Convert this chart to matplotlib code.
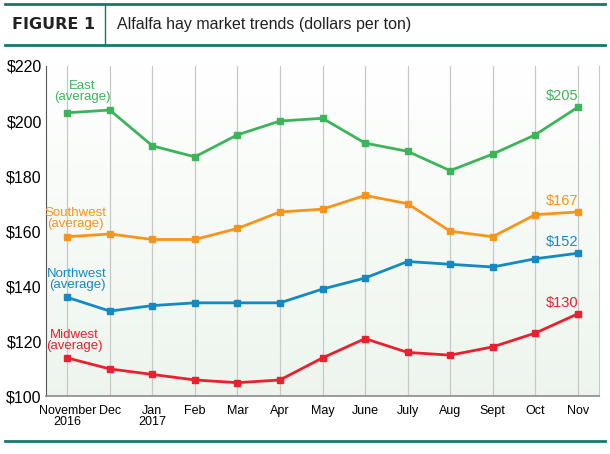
import matplotlib.pyplot as plt
import matplotlib.lines as mlines
import numpy as np

months = ['November\n2016', 'Dec', 'Jan\n2017', 'Feb', 'Mar', 'Apr', 'May',
          'June', 'July', 'Aug', 'Sept', 'Oct', 'Nov']
east = [203, 204, 191, 187, 195, 200, 201, 192, 189, 182, 188, 195, 205]
southwest = [158, 159, 157, 157, 161, 167, 168, 173, 170, 160, 158, 166, 167]
northwest = [136, 131, 133, 134, 134, 134, 139, 143, 149, 148, 147, 150, 152]
midwest = [114, 110, 108, 106, 105, 106, 114, 121, 116, 115, 118, 123, 130]
yticks = [100, 120, 140, 160, 180, 200, 220]

names = ['East', 'Southwest', 'Northwest', 'Midwest']
series = [east, southwest, northwest, midwest]
colors = ['#3db45a', '#f7941d', '#1489c3', '#e8202f']
label_pos = [(0.35, 210.7), (0.19, 164.7), (0.23, 142.5), (0.16, 120.2)]

font = 'Liberation Sans'
teal = '#17786a'

fig = plt.figure(figsize=(6.1, 4.54), dpi=100)
ax = fig.add_axes([0.0754, 0.1267, 0.9066, 0.728])

x = np.arange(len(months))
ax.set_xlim(-0.5, 12.5)
ax.set_ylim(100, 220)

# soft green gradient behind the plot
grad = np.linspace(0, 1, 256).reshape(-1, 1)
top = np.array([1.0, 1.0, 1.0])
bot = np.array([0.93, 0.96, 0.93])
img = top + (bot - top) * grad[:, :, None]
ax.imshow(img, extent=[-0.5, 12.5, 100, 220], aspect='auto', zorder=0)

for xi in x:
    ax.axvline(xi, color='#c8c8c8', lw=0.9, zorder=1)

for name, vals, c, (lx, ly) in zip(names, series, colors, label_pos):
    ax.plot(x, vals, color=c, lw=2.0, marker='s', markersize=4.5, zorder=3)
    ax.text(lx, ly, name + '\n(average)', color=c, ha='center', va='center',
            fontsize=9.5, family=font, linespacing=0.9)
    ax.text(11.64, vals[-1] + 4, '$' + str(vals[-1]), color=c, ha='center',
            va='center', fontsize=10.5, family=font)

ax.set_xticks(x)
ax.set_xticklabels(months, family=font, fontsize=9, linespacing=0.95)
ax.set_yticks(yticks)
ax.set_yticklabels(['$' + str(v) for v in yticks], family=font, fontsize=11.5)
ax.tick_params(axis='both', length=0, pad=3)
ax.tick_params(axis='x', pad=6)

ax.spines['top'].set_visible(False)
ax.spines['right'].set_color('#c8c8c8')
ax.spines['left'].set_color('#555555')
ax.spines['bottom'].set_color('#8a8a8a')
ax.spines['bottom'].set_linewidth(1.2)

# header
fig.add_artist(mlines.Line2D([0.008, 0.992], [0.991, 0.991], color=teal, lw=2))
fig.add_artist(mlines.Line2D([0.008, 0.992], [0.901, 0.901], color=teal, lw=2))
fig.add_artist(mlines.Line2D([0.172, 0.172], [0.901, 0.991], color=teal, lw=1))
fig.add_artist(mlines.Line2D([0.008, 0.992], [0.0286, 0.0286], color=teal, lw=2))
fig.text(0.02, 0.946, 'FIGURE 1', fontsize=11.5, fontweight='bold', color='#222222',
         va='center', ha='left', family='DejaVu Sans')
fig.text(0.192, 0.946, 'Alfalfa hay market trends (dollars per ton)', fontsize=11.5,
         color='#222222', va='center', ha='left', family=font)

fig.savefig('out.png', dpi=100)
